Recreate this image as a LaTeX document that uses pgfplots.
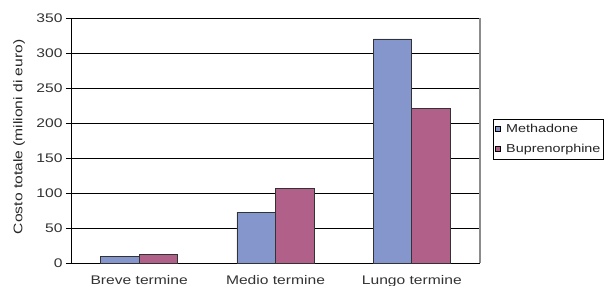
\documentclass[border=0pt]{standalone}
\usepackage{fontspec}
\setmainfont{Liberation Sans}[FakeStretch=1.25]
\usepackage{pgfplots}
\pgfplotsset{compat=1.18}
\definecolor{meth}{RGB}{133,150,205}
\definecolor{bupr}{RGB}{177,96,138}
\begin{document}
\begin{tikzpicture}
\begin{axis}[
  at={(0bp,0bp)}, anchor=south west,
  scale only axis, width=409bp, height=245bp,
  xmin=-0.5, xmax=2.5, ymin=0, ymax=350,
  axis x line*=bottom, axis y line*=left,
  axis line style={black, line width=0.8bp, -},
  xtick={0,1,2},
  xticklabels={Breve termine, Medio termine, Lungo termine},
  x tick style={draw=none},
  extra x ticks={-0.5,0.5,1.5,2.5},
  extra x tick labels={},
  extra x tick style={tick style={draw=black, line width=0.8bp}, major tick length=5bp, tick align=outside},
  ytick={0,50,...,350},
  y tick style={black, line width=0.8bp},
  major tick length=5bp, tick align=outside,
  ymajorgrids, grid style={black, line width=0.8bp},
  /pgf/number format/assume math mode=true,
  tick label style={font=\fontsize{12.5bp}{14bp}\selectfont, text=black!80},
  xticklabel style={anchor=north, inner sep=0pt, yshift=-7bp},
  ylabel={Costo totale (milioni di euro)},
  every axis y label/.style={at={(axis description cs:-0.127,0.515)}, rotate=90, anchor=center, font=\fontsize{12.5bp}{14bp}\selectfont, text=black!85},
  legend style={at={(rel axis cs:1.032,0.588)}, anchor=north west, draw=black, line width=0.8bp,
    font=\fontsize{11.5bp}{14bp}\selectfont, text=black!85, inner xsep=1.5bp, inner ysep=3bp, row sep=6bp,
    cells={anchor=west}, nodes={inner xsep=1.5bp}},
  legend image code/.code={\draw[#1, line width=0.7bp, draw=black] (0bp,-2.5bp) rectangle (5.5bp,3bp);\path (9bp,0bp);},
  clip=false,
]
\addplot[ybar, bar width=0.2825, bar shift=-0.14125, fill=meth, draw=black!80, line width=0.7bp]
  coordinates {(0,9.5) (1,72.5) (2,320)};
\addlegendentry{Methadone}
\addplot[ybar, bar width=0.2825, bar shift=0.14125, fill=bupr, draw=black!80, line width=0.7bp]
  coordinates {(0,12) (1,107) (2,221)};
\addlegendentry{Buprenorphine}
\draw[black!45, line width=1.2bp] (rel axis cs:1,0) -- (rel axis cs:1,1);
\end{axis}
\pgfresetboundingbox
\useasboundingbox (-71bp,-23bp) rectangle (537bp,263bp);
\end{tikzpicture}
\end{document}
